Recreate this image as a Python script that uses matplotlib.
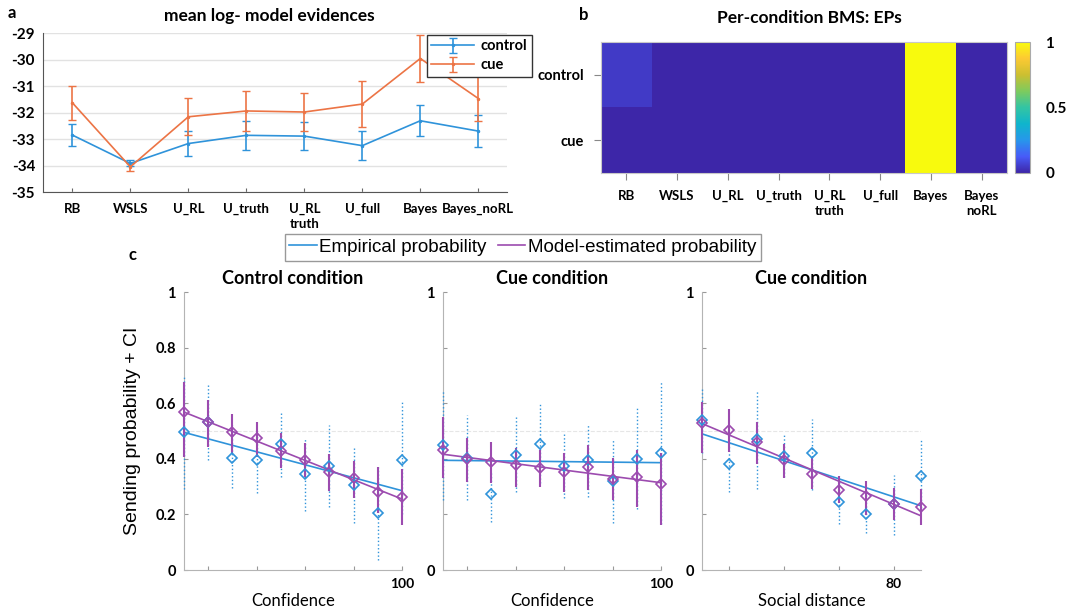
import numpy as np
import matplotlib
matplotlib.use("Agg")
import matplotlib.pyplot as plt
from matplotlib.colors import LinearSegmentedColormap
from matplotlib.lines import Line2D

plt.rcParams['font.family'] = ['Lato', 'DejaVu Sans']
plt.rcParams['axes.unicode_minus'] = False

# ---- panel a: mean log model evidences ----
models = ["RB", "WSLS", "U_RL", "U_truth", "U_RL\ntruth", "U_full", "Bayes", "Bayes_noRL"]
ctrl_mean = [-32.85, -33.92, -33.17, -32.86, -32.89, -33.25, -32.31, -32.70]
ctrl_err = [0.42, 0.11, 0.48, 0.54, 0.54, 0.55, 0.58, 0.60]
cue_mean = [-31.63, -34.05, -32.16, -31.94, -31.98, -31.68, -29.96, -31.47]
cue_err = [0.65, 0.15, 0.70, 0.77, 0.73, 0.88, 0.87, 0.85]

# ---- panel b: exceedance probabilities ----
bms_models = ["RB", "WSLS", "U_RL", "U_truth", "U_RL\ntruth", "U_full", "Bayes", "Bayes\nnoRL"]
conditions = ["control", "cue"]
ep_control = [0.05, 0.0, 0.0, 0.0, 0.0, 0.0, 1.0, 0.0]
ep_cue = [0.0, 0.0, 0.0, 0.0, 0.0, 0.0, 1.0, 0.0]

# ---- panel c: sending probability ----
conf_bins = [10, 20, 30, 40, 50, 60, 70, 80, 90, 100]
dist_bins = [10, 20, 30, 40, 50, 60, 70, 80, 90]

ctrl_emp = [0.496, 0.532, 0.402, 0.394, 0.455, 0.345, 0.373, 0.305, 0.204, 0.397]
ctrl_emp_lo = [0.29, 0.396, 0.295, 0.276, 0.333, 0.212, 0.228, 0.168, 0.036, 0.20]
ctrl_emp_hi = [0.70, 0.672, 0.52, 0.50, 0.573, 0.472, 0.522, 0.438, 0.37, 0.606]
ctrl_mod = [0.567, 0.532, 0.495, 0.474, 0.429, 0.396, 0.352, 0.330, 0.280, 0.262]
ctrl_mod_lo = [0.408, 0.444, 0.42, 0.408, 0.366, 0.336, 0.285, 0.26, 0.204, 0.162]
ctrl_mod_hi = [0.678, 0.612, 0.561, 0.534, 0.492, 0.456, 0.418, 0.393, 0.37, 0.364]

cue_emp = [0.448, 0.402, 0.273, 0.415, 0.454, 0.375, 0.394, 0.322, 0.401, 0.420]
cue_emp_lo = [0.252, 0.252, 0.172, 0.28, 0.312, 0.258, 0.262, 0.168, 0.218, 0.164]
cue_emp_hi = [0.645, 0.556, 0.348, 0.552, 0.597, 0.49, 0.525, 0.472, 0.588, 0.675]
cue_mod = [0.430, 0.399, 0.388, 0.376, 0.367, 0.352, 0.370, 0.328, 0.334, 0.309]
cue_mod_lo = [0.33, 0.318, 0.312, 0.30, 0.297, 0.282, 0.288, 0.252, 0.228, 0.162]
cue_mod_hi = [0.552, 0.474, 0.459, 0.438, 0.432, 0.42, 0.45, 0.402, 0.43, 0.42]

dist_emp = [0.538, 0.382, 0.472, 0.411, 0.420, 0.244, 0.202, 0.236, 0.339]
dist_emp_lo = [0.42, 0.282, 0.292, 0.336, 0.288, 0.166, 0.132, 0.126, 0.222]
dist_emp_hi = [0.651, 0.49, 0.648, 0.492, 0.543, 0.339, 0.276, 0.342, 0.468]
dist_mod = [0.528, 0.502, 0.459, 0.394, 0.346, 0.288, 0.267, 0.238, 0.226]
dist_mod_lo = [0.42, 0.423, 0.382, 0.33, 0.29, 0.24, 0.198, 0.18, 0.162]
dist_mod_hi = [0.603, 0.579, 0.534, 0.454, 0.405, 0.339, 0.321, 0.294, 0.29]

blue = "#2F93DA"
orange = "#EC7445"
purple = "#9C4BAF"
spine_grey = "#B4B4B4"

# parula-like colormap
parula = LinearSegmentedColormap.from_list("parula", [
    (0.0, (0.2422, 0.1504, 0.6603)),
    (0.125, (0.2788, 0.3570, 0.9722)),
    (0.25, (0.1540, 0.5902, 0.9218)),
    (0.375, (0.0590, 0.7100, 0.8000)),
    (0.5, (0.2000, 0.7700, 0.6400)),
    (0.625, (0.4900, 0.7950, 0.3700)),
    (0.75, (0.8000, 0.7500, 0.1900)),
    (0.875, (0.9900, 0.7900, 0.2000)),
    (1.0, (0.9763, 0.9831, 0.0538)),
])

fig = plt.figure(figsize=(10.78, 6.09), dpi=100)

# panel a
ax_a = fig.add_axes([0.0402, 0.6847, 0.4304, 0.261])
x = np.arange(1, len(models) + 1)
ax_a.errorbar(x, ctrl_mean, yerr=ctrl_err, color=blue, lw=1.2, capsize=3,
              marker='.', ms=3, label='control', zorder=3)
ax_a.errorbar(x, cue_mean, yerr=cue_err, color=orange, lw=1.2, capsize=3,
              marker='.', ms=3, label='cue', zorder=3)
ax_a.set_xlim(0.5, 8.5)
ax_a.set_ylim(-35, -29)
ax_a.set_yticks(range(-35, -28))
ax_a.set_xticks(x)
ax_a.set_xticklabels(models, fontsize=9.5, fontweight='bold', linespacing=1.3)
for t in ax_a.get_yticklabels():
    t.set_fontsize(11)
    t.set_fontweight('bold')
ax_a.tick_params(axis='y', length=0, pad=6)
ax_a.tick_params(axis='x', direction='in', length=3, color='#666666', pad=8)
ax_a.grid(axis='y', color='#E2E2E2', lw=1)
ax_a.set_axisbelow(True)
for s in ['top', 'right']:
    ax_a.spines[s].set_visible(False)
for s in ['left', 'bottom']:
    ax_a.spines[s].set_color('#555555')
leg_a = ax_a.legend(loc='upper right', bbox_to_anchor=(532 / 1078, 1 - 35 / 609),
                    bbox_transform=fig.transFigure, borderaxespad=0, fancybox=False,
                    edgecolor='#333333', framealpha=1, handlelength=2.9,
                    prop={'weight': 'bold', 'size': 10.5}, borderpad=0.3,
                    labelspacing=0.35, handletextpad=0.5)
fig.text(0.25, 0.973, "mean log- model evidences", ha='center', va='center',
         fontsize=12.5, fontweight='bold')
fig.text(0.011, 0.979, "a", ha='center', va='center', fontsize=12, fontweight='bold')

# panel b
ax_b = fig.add_axes([0.5575, 0.716, 0.3766, 0.215])
ep = np.array([ep_control, ep_cue])
im = ax_b.imshow(ep, cmap=parula, vmin=0, vmax=1, aspect='auto', interpolation='nearest')
ax_b.set_xticks(range(len(bms_models)))
ax_b.set_xticklabels(bms_models, fontsize=9.5, fontweight='bold', linespacing=1.3)
ax_b.set_yticks(range(len(conditions)))
ax_b.set_yticklabels(conditions, fontsize=10.5, fontweight='bold')
ax_b.tick_params(color='#888888', length=5, pad=7)
for s in ax_b.spines.values():
    s.set_color('#C8C8C8')
cax = fig.add_axes([0.9416, 0.716, 0.0139, 0.215])
cb = fig.colorbar(im, cax=cax, ticks=[0, 0.5, 1])
cb.ax.set_yticklabels(['0', '0.5', '1'], fontsize=11, fontweight='bold')
cb.ax.tick_params(length=0, pad=11)
cb.outline.set_edgecolor('#AAAAAA')
fig.text(0.751, 0.97, "Per-condition BMS: EPs", ha='center', va='center',
         fontsize=12.5, fontweight='bold')
fig.text(0.541, 0.975, "b", ha='center', va='center', fontsize=12, fontweight='bold')

# panel c
def fit_line(xs, ys):
    k, b = np.polyfit(xs, ys, 1)
    return [k * v + b for v in xs]

def unclip(container):
    for part in container.lines:
        if part is None:
            continue
        items = part if isinstance(part, tuple) else (part,)
        for item in items:
            item.set_clip_on(False)

def draw_condition(ax, xs, emp, emp_lo, emp_hi, mod, mod_lo, mod_hi, title):
    ax.axhline(0.5, color='#E6E6E6', lw=0.8, ls='--', zorder=0)
    ax.plot(xs, fit_line(xs, emp), color=blue, lw=1.2, zorder=2)
    ax.plot(xs, fit_line(xs, mod), color=purple, lw=1.2, zorder=2)
    emp_err = [np.subtract(emp, emp_lo), np.subtract(emp_hi, emp)]
    mod_err = [np.subtract(mod, mod_lo), np.subtract(mod_hi, mod)]
    eb = ax.errorbar(xs, emp, yerr=emp_err, fmt='none', ecolor=blue, elinewidth=1.0, zorder=3)
    eb[2][0].set_linestyle(':')
    unclip(eb)
    eb2 = ax.errorbar(xs, mod, yerr=mod_err, fmt='none', ecolor=purple, elinewidth=1.5, zorder=4)
    unclip(eb2)
    ax.plot(xs, emp, ls='none', marker='D', ms=5, mfc='none', mec=blue, mew=1.2,
            zorder=5, clip_on=False)
    ax.plot(xs, mod, ls='none', marker='D', ms=5, mfc='none', mec=purple, mew=1.2,
            zorder=5, clip_on=False)
    ax.set_xlim(xs[0], xs[-1])
    ax.set_ylim(0, 1)
    ax.set_yticks([0, 0.2, 0.4, 0.6, 0.8, 1])
    ax.set_title(title, fontsize=13, fontweight='bold', pad=6)
    for s in ['top', 'right']:
        ax.spines[s].set_visible(False)
    for s in ['left', 'bottom']:
        ax.spines[s].set_color(spine_grey)
    ax.tick_params(direction='in', color='#999999', length=3, pad=6)

ax_c1 = fig.add_axes([0.1707, 0.064, 0.2022, 0.4565])
draw_condition(ax_c1, conf_bins, ctrl_emp, ctrl_emp_lo, ctrl_emp_hi,
               ctrl_mod, ctrl_mod_lo, ctrl_mod_hi, "Control condition")
ax_c1.set_xticks([20, 40, 60, 80, 100])
ax_c1.set_xticklabels(['', '', '', '', '100'], fontsize=10, fontweight='bold')
ax_c1.set_yticklabels(['0', '0.2', '0.4', '0.6', '0.8', '1'], fontsize=10.5, fontweight='bold')
ax_c1.set_xlabel("Confidence", fontsize=12, labelpad=2)
ax_c1.set_ylabel("Sending probability + CI", fontsize=14,
                 family=['Liberation Sans', 'DejaVu Sans'], labelpad=10)

ax_c2 = fig.add_axes([0.411, 0.064, 0.2022, 0.4565])
draw_condition(ax_c2, conf_bins, cue_emp, cue_emp_lo, cue_emp_hi,
               cue_mod, cue_mod_lo, cue_mod_hi, "Cue condition")
ax_c2.set_xticks([20, 40, 60, 80, 100])
ax_c2.set_xticklabels(['', '', '', '', '100'], fontsize=10, fontweight='bold')
ax_c2.set_yticklabels(['0', '', '', '', '', '1'], fontsize=10.5, fontweight='bold')
ax_c2.set_xlabel("Confidence", fontsize=12, labelpad=2)

ax_c3 = fig.add_axes([0.6512, 0.064, 0.2032, 0.4565])
draw_condition(ax_c3, dist_bins, dist_emp, dist_emp_lo, dist_emp_hi,
               dist_mod, dist_mod_lo, dist_mod_hi, "Cue condition")
ax_c3.set_xticks([20, 40, 60, 80])
ax_c3.set_xticklabels(['', '', '', '80'], fontsize=10, fontweight='bold')
ax_c3.set_yticklabels(['0', '', '', '', '', '1'], fontsize=10.5, fontweight='bold')
ax_c3.set_xlabel("Social distance", fontsize=12, labelpad=2)

handles = [Line2D([], [], color=blue, lw=1.2), Line2D([], [], color=purple, lw=1.2)]
fig.legend(handles, ["Empirical probability", "Model-estimated probability"],
           loc='center', bbox_to_anchor=(0.485, 0.594), ncol=2, fancybox=False,
           edgecolor='#999999', framealpha=1, handlelength=1.45, handletextpad=0.15,
           columnspacing=0.6, borderpad=0.25,
           prop={'family': ['Liberation Sans', 'DejaVu Sans'], 'size': 13.5})
fig.text(0.123, 0.582, "c", ha='center', va='center', fontsize=12, fontweight='bold')

fig.savefig("out.png", dpi=100)
